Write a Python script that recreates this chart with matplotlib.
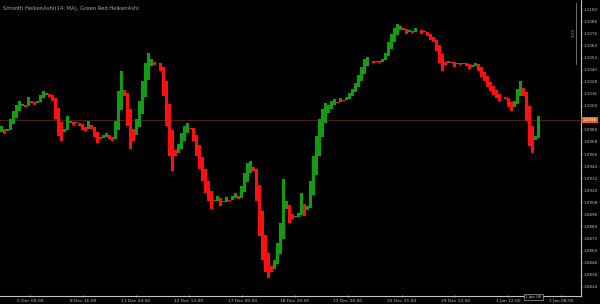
import matplotlib
matplotlib.use("Agg")
import matplotlib.pyplot as plt
import numpy as np

# Smoothed Heiken Ashi closes (one per candle)
closes = [
    1.0984, 1.0976, 1.0981, 1.0991, 1.0999, 1.1005, 1.1009, 1.1006, 1.1003, 1.1013,
    1.1007, 1.1005, 1.1009, 1.1015, 1.1019, 1.1017, 1.1013, 1.1009, 1.0991, 1.0974,
    1.0969, 1.0981, 1.0994, 1.0989, 1.0985, 1.0988, 1.0984, 1.0980, 1.0979, 1.0989,
    1.0981, 1.0973, 1.0967, 1.0971, 1.0975, 1.0977, 1.0971, 1.0969, 1.0989, 1.1019,
    1.1039, 1.1014, 1.0984, 1.0961, 1.0969, 1.0991, 1.1009, 1.1029, 1.1047, 1.1057,
    1.1051, 1.1045, 1.1047, 1.1039, 1.1014, 1.0984, 1.0954, 1.0939, 1.0954, 1.0966,
    1.0977, 1.0984, 1.0987, 1.0981, 1.0969, 1.0954, 1.0941, 1.0929, 1.0917, 1.0909,
    1.0901, 1.0909, 1.0914, 1.0904, 1.0909, 1.0913, 1.0909, 1.0914, 1.0917, 1.0911,
    1.0924, 1.0937, 1.0947, 1.0949, 1.0939, 1.0909, 1.0874, 1.0851, 1.0839, 1.0833,
    1.0839, 1.0851, 1.0867, 1.0887, 1.0931, 1.0909, 1.0887, 1.0891, 1.0894, 1.0897,
    1.0917, 1.0894, 1.0904, 1.0929, 1.0954, 1.0974, 1.0991, 1.1001, 1.1007, 1.1005,
    1.1009, 1.1011, 1.1007, 1.1012, 1.1009, 1.1013, 1.1017, 1.1021, 1.1027, 1.1035,
    1.1043, 1.1051, 1.1053, 1.1049, 1.1047, 1.1049, 1.1047, 1.1051, 1.1057, 1.1067,
    1.1075, 1.1081, 1.1085, 1.1083, 1.1079, 1.1075, 1.1079, 1.1076, 1.1081, 1.1079,
    1.1075, 1.1078, 1.1073, 1.1069, 1.1067, 1.1059, 1.1047, 1.1039, 1.1045, 1.1049,
    1.1047, 1.1043, 1.1047, 1.1045, 1.1047, 1.1044, 1.1041, 1.1045, 1.1047, 1.1039,
    1.1033, 1.1029, 1.1023, 1.1019, 1.1015, 1.1012, 1.1009, 1.1013, 1.1011, 1.1003,
    1.0999, 1.1009, 1.1021, 1.1029, 1.1014, 1.0989, 1.0964, 1.0957, 1.0974, 1.0994,
]
first_open = 1.0978
bid_price = 1.0990

price_ticks = [round(1.1100 - 0.0012 * i, 4) for i in range(24)]
time_labels = ["5 Dec 00:00", "8 Dec 16:00", "11 Dec 04:00", "12 Dec 12:00",
               "17 Dec 00:00", "18 Dec 20:00", "22 Dec 20:00", "25 Dec 21:00",
               "29 Dec 12:00", "1 Jan 12:00", "2 Jan 08:00"]
time_tick_bars = [9.5, 27.2, 44.8, 62.5, 80.2, 97.8, 115.5, 133.5, 151.2, 168.8, 186.5]
title = "Smooth HeikenAshi(14, MA), Green Red HeikenAshi"

GREEN = "#129c12"
RED = "#ff1010"
FG = "#c4c4c4"

closes_a = np.array(closes)
# Heiken Ashi open: midpoint of the previous candle's body
opens_a = np.empty_like(closes_a)
opens_a[0] = first_open
for i in range(1, len(closes_a)):
    opens_a[i] = (opens_a[i - 1] + closes_a[i - 1]) / 2
x = np.arange(len(closes_a))
cols = [GREEN if c >= o else RED for o, c in zip(opens_a, closes_a)]

fig = plt.figure(figsize=(6, 3.04), dpi=100, facecolor="black")
ax = fig.add_axes([0, 8 / 304, 581 / 600, 296 / 304], facecolor="black")

ax.bar(x, closes_a - opens_a, bottom=opens_a, width=0.9, color=cols, linewidth=0)

ax.axhline(bid_price, color="#4e1e10", lw=0.7, zorder=0)

ax.set_xlim(-0.5, 581 / 3 - 0.5)
ax.set_ylim(1.1100 - 286.7 * 0.0012 / 12.06, 1.1100 + 9.3 * 0.0012 / 12.06)

for s in ("left", "top"):
    ax.spines[s].set_visible(False)
for s in ("right", "bottom"):
    ax.spines[s].set_color(FG)
    ax.spines[s].set_linewidth(0.8)

ax.yaxis.tick_right()
ax.set_yticks(price_ticks)
ax.set_yticklabels(["" if i == 9 else f"{v:.4f}" for i, v in enumerate(price_ticks)])
ax.tick_params(axis="y", colors=FG, labelsize=3.0, length=1.0, width=0.5, pad=0.6)
ax.set_xticks(time_tick_bars)
ax.set_xticklabels(time_labels)
ax.tick_params(axis="x", colors=FG, labelsize=3.2, length=2, width=0.5, pad=1, direction="inout")

ax.text(0.005, 0.98, title, transform=ax.transAxes, color="#a8a8a8", fontsize=3.8,
        ha="left", va="top")

# current price box
ax.text(1.003, bid_price, f"{bid_price:.4f}", transform=ax.get_yaxis_transform(),
        color="white", fontsize=3.0, ha="left", va="center", clip_on=False,
        bbox=dict(boxstyle="square,pad=0.3", fc="#e8641e", ec="none"))

# scale handle at top right
ax.plot([0.9915, 0.9915], [0.99, 0.785], transform=ax.transAxes, color="#9a9a9a", lw=0.5)
ax.text(0.9865, 0.89, "1:00", transform=ax.transAxes, color="#9a9a9a", fontsize=3,
        rotation=90, ha="center", va="center")

# time marker box
fig.text(533 / 600, 1 - 297 / 304, "1 Jan 06", color=FG, fontsize=3, ha="center", va="center",
         bbox=dict(boxstyle="square,pad=0.3", fc="black", ec=FG, lw=0.4))

fig.savefig("out.png", dpi=100, facecolor="black")
